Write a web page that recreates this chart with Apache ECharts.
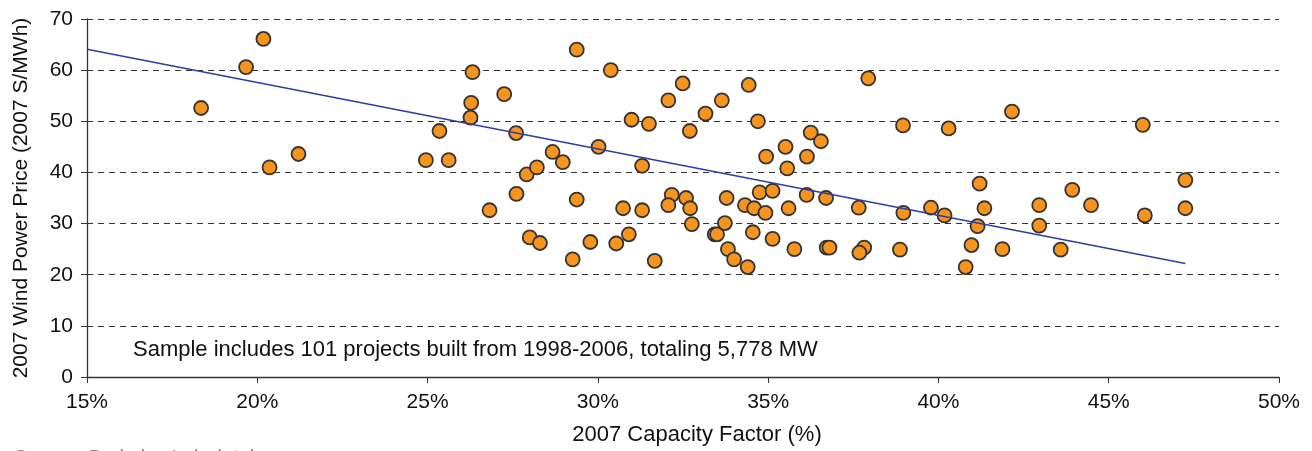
<!DOCTYPE html>
<html>
<head>
<meta charset="utf-8">
<title>Wind Power Price vs Capacity Factor</title>
<script src="https://cdn.jsdelivr.net/npm/echarts@6/dist/echarts.min.js"></script>
<style>
  html, body { margin: 0; padding: 0; background: #fff; }
  .chart { width: 1312px; height: 451px; }
</style>
</head>
<body>
<div class="chart"></div>
<script>
// capacity factor (%) of each project
var capacityFactor = [
  18.35, 19.67, 20.18, 20.36, 21.21, 24.95, 25.35, 25.62, 26.32, 26.28,
  26.26, 26.82, 27.25, 27.6, 27.61, 27.91, 28.21, 28.0, 28.3, 28.67,
  28.97, 29.38, 29.38, 29.26, 29.78, 30.02, 30.38, 30.54, 30.74, 30.91,
  30.99, 31.3, 31.3, 31.5, 31.67, 32.07, 32.17, 32.07, 32.49, 32.59,
  32.7, 32.71, 32.76, 33.16, 33.43, 33.5, 33.64, 33.73, 33.78, 33.82,
  34.0, 34.32, 34.4, 34.43, 34.59, 34.55, 34.7, 34.75, 34.92, 34.94,
  35.13, 35.13, 35.51, 35.56, 35.6, 35.77, 36.14, 36.13, 36.25, 36.55,
  36.7, 36.72, 36.8, 37.66, 37.82, 37.68, 37.94, 38.96, 38.97, 38.87,
  39.78, 40.18, 40.3, 40.8, 40.97, 41.15, 41.21, 41.35, 42.16, 41.88,
  42.96, 42.96, 43.59, 43.93, 44.48, 46.0, 46.06, 47.25, 47.25
];
// 2007 wind power price ($/MWh) of each project
var windPrice = [
  52.6, 60.6, 66.1, 41.0, 43.6, 42.4, 48.1, 42.4, 59.6, 53.6,
  50.7, 32.6, 55.3, 47.7, 35.8, 39.6, 41.0, 27.3, 26.2, 44.0,
  42.0, 64.0, 34.7, 23.0, 26.4, 45.0, 60.0, 26.1, 33.0, 27.9,
  50.3, 41.3, 32.6, 49.5, 22.7, 54.1, 35.6, 33.6, 57.4, 35.0,
  48.1, 33.0, 29.9, 51.5, 27.9, 27.9, 54.1, 30.1, 35.0, 25.0,
  23.0, 33.6, 21.5, 57.1, 33.0, 28.3, 50.0, 36.1, 32.1, 43.1,
  36.4, 27.0, 45.0, 40.8, 33.0, 25.0, 43.1, 35.6, 47.8, 46.1,
  35.0, 25.3, 25.3, 33.1, 25.3, 24.3, 58.4, 49.2, 32.1, 24.9,
  33.1, 31.6, 48.6, 21.5, 25.8, 29.5, 37.8, 33.0, 51.9, 25.0,
  33.6, 29.6, 24.9, 36.6, 33.6, 49.3, 31.6, 38.5, 33.0
];
// linear trend end points
var trendX = [15, 47.25];
var trendY = [64.1, 22.2];

var xTicks = ['15%', '20%', '25%', '30%', '35%', '40%', '45%', '50%'];
var yTicks = [0, 10, 20, 30, 40, 50, 60, 70];

var font = 'Arial, "Liberation Sans", sans-serif';

var points = capacityFactor.map(function (x, i) {
  return [x, windPrice[i]];
});
var trend = trendX.map(function (x, i) {
  return [x, trendY[i]];
});

var myChart = echarts.init(document.querySelector('.chart'));

var option = {
  animation: false,
  textStyle: { fontFamily: font },
  grid: {
    left: 87, right: 33, top: 19, bottom: 74,
    containLabel: false,
    outerBoundsMode: 'none'
  },
  xAxis: {
    type: 'value',
    min: 15,
    max: 50,
    interval: 5,
    name: '2007 Capacity Factor (%)',
    nameLocation: 'middle',
    nameGap: 47,
    nameTextStyle: { fontSize: 22, color: '#111', fontFamily: font, padding: [0, 0, 0, 28] },
    axisLine: { show: true, lineStyle: { color: '#333', width: 1.3 } },
    axisTick: { show: true, inside: false, length: 6, lineStyle: { color: '#333' } },
    axisLabel: {
      fontSize: 21,
      color: '#111',
      margin: 15,
      formatter: function (v) {
        return xTicks[Math.round((v - 15) / 5)];
      }
    },
    splitLine: { show: false }
  },
  yAxis: {
    type: 'value',
    min: 0,
    max: 70,
    interval: 10,
    name: '2007 Wind Power Price (2007 S/MWh)',
    nameLocation: 'middle',
    nameGap: 55,
    nameTextStyle: { fontSize: 21, color: '#111', fontFamily: font },
    axisLine: { show: true, lineStyle: { color: '#333', width: 1.3 } },
    axisTick: { show: true, inside: false, length: 6, lineStyle: { color: '#333' } },
    axisLabel: {
      fontSize: 21,
      color: '#111',
      margin: 14,
      formatter: function (v) {
        return yTicks[Math.round(v / 10)];
      }
    },
    splitLine: {
      show: true,
      lineStyle: { color: '#333', type: [6, 5], width: 1 }
    }
  },
  graphic: [
    {
      type: 'text',
      left: 133,
      top: 339,
      style: {
        text: 'Sample includes 101 projects built from 1998-2006, totaling 5,778 MW',
        font: '22px ' + font,
        fill: '#111'
      }
    },
    {
      type: 'text',
      left: 14,
      top: 448,
      style: {
        text: 'Source: Berkeley Lab database',
        font: '20px ' + font,
        fill: '#888'
      }
    }
  ],
  series: [
    {
      name: 'Projects',
      type: 'scatter',
      data: points,
      symbol: 'circle',
      symbolSize: 14,
      itemStyle: {
        color: '#F7941D',
        borderColor: '#333',
        borderWidth: 1.8,
        opacity: 1
      },
      z: 2
    },
    {
      name: 'Trend',
      type: 'line',
      data: trend,
      symbol: 'none',
      lineStyle: { color: '#2E3D9E', width: 1.5 },
      z: 3
    }
  ]
};

myChart.setOption(option);
window.addEventListener('resize', function () {
  myChart.resize();
});
</script>
</body>
</html>
